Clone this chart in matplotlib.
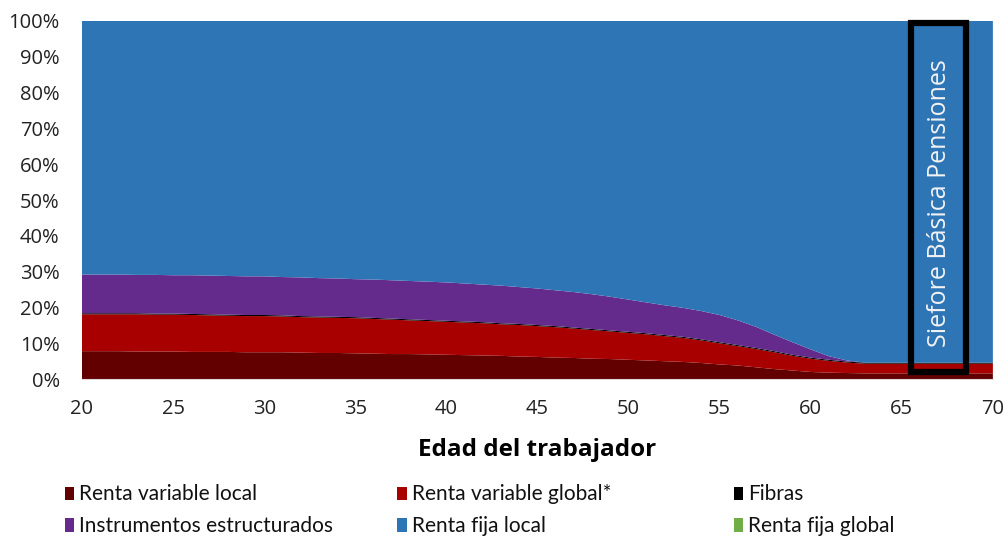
import matplotlib.pyplot as plt
import numpy as np
from matplotlib.patches import Rectangle

plt.rcParams['font.family'] = ['Open Sans', 'DejaVu Sans']

edad = list(range(20, 71))

# tope acumulado de cada capa (%)
tope_rv_local = [7.8, 7.8, 7.8, 7.7, 7.7, 7.7, 7.6, 7.6, 7.6, 7.5,
                 7.5, 7.5, 7.4, 7.3, 7.3, 7.2, 7.1, 7.0, 7.0, 6.9,
                 6.8, 6.7, 6.6, 6.5, 6.3, 6.2, 6.0, 5.9, 5.7, 5.6,
                 5.4, 5.2, 5.0, 4.8, 4.5, 4.1, 3.8, 3.3, 2.8, 2.4,
                 2.0, 1.8, 1.7, 1.6, 1.6, 1.6, 1.6, 1.6, 1.6, 1.6, 1.6]
tope_rv_global = [18.1, 18.1, 18.1, 18.1, 18.0, 18.0, 17.9, 17.8, 17.7, 17.6,
                  17.6, 17.5, 17.3, 17.2, 17.1, 17.0, 16.8, 16.6, 16.4, 16.2,
                  16.0, 15.8, 15.6, 15.3, 15.1, 14.8, 14.5, 14.1, 13.7, 13.3,
                  12.9, 12.5, 12.0, 11.5, 10.8, 10.0, 9.2, 8.4, 7.5, 6.5,
                  5.7, 5.1, 4.6, 4.3, 4.3, 4.3, 4.3, 4.3, 4.3, 4.3, 4.3]
fibras = [0.3] * 51
tope_estructurados = [29.2, 29.2, 29.2, 29.1, 29.1, 29.0, 29.0, 28.9, 28.8, 28.7,
                      28.7, 28.5, 28.4, 28.2, 28.1, 27.9, 27.8, 27.6, 27.4, 27.2,
                      27.0, 26.7, 26.4, 26.1, 25.7, 25.3, 24.8, 24.3, 23.7, 23.0,
                      22.2, 21.4, 20.6, 19.9, 19.0, 17.9, 16.4, 14.6, 12.4, 10.3,
                      8.3, 6.4, 5.2, 4.6, 4.6, 4.6, 4.6, 4.6, 4.6, 4.6, 4.6]
rf_global = [0.0] * 51

rv_local = np.array(tope_rv_local)
rv_global = np.array(tope_rv_global) - rv_local
fib = np.array(fibras)
estruct = np.array(tope_estructurados) - rv_local - rv_global - fib
rf_global = np.array(rf_global)
rf_local = 100 - rv_local - rv_global - fib - estruct - rf_global

nombres = ['Renta variable local', 'Renta variable global*', 'Fibras',
           'Instrumentos estructurados', 'Renta fija local', 'Renta fija global']
colores = ['#620000', '#A80000', '#000000', '#652B8C', '#2E75B6', '#70AD47']

fig = plt.figure(figsize=(10.08, 5.37), dpi=100)
ax = fig.add_axes([0.0813, 0.294, 0.9037, 0.667])
ax.stackplot(edad, rv_local, rv_global, fib, estruct, rf_local, rf_global,
             colors=colores, linewidth=0)

ax.set_xlim(20, 70)
ax.set_ylim(0, 100)
ax.set_xticks(range(20, 71, 5))
ax.set_yticks(range(0, 101, 10))
ax.set_yticklabels([f'{v}%' for v in range(0, 101, 10)])
ax.tick_params(length=0, labelsize=14.5, colors='#222222')
ax.tick_params(axis='y', pad=16)
ax.tick_params(axis='x', pad=14)
for s in ['top', 'right', 'left']:
    ax.spines[s].set_visible(False)
ax.spines['bottom'].set_color('#d9d9d9')
ax.set_xlabel('Edad del trabajador', fontsize=17.5, fontweight='bold', labelpad=14)

# recuadro de la Siefore Basica Pensiones
ax.add_patch(Rectangle((65.5, 2.0), 3.0, 97.4, fill=False, edgecolor='black',
                       linewidth=4.5, clip_on=False, zorder=5))
ax.text(67.05, 49, 'Siefore Básica Pensiones', rotation=90, ha='center', va='center',
        color='#f2f2f2', fontsize=18, zorder=6)

# leyenda en dos filas, tres columnas
col_x = [0.064, 0.394, 0.728]
fila_y = [0.080, 0.021]
for i, (nom, col) in enumerate(zip(nombres, colores)):
    x = col_x[i % 3]
    y = fila_y[i // 3]
    fig.add_artist(Rectangle((x, y - 0.012), 0.0095, 0.026, facecolor=col,
                             edgecolor='none', transform=fig.transFigure))
    fig.text(x + 0.0145, y, nom, fontsize=15, family=['Lato', 'DejaVu Sans'],
             va='center', ha='left', color='#111111')

fig.savefig('out.png', dpi=100)
